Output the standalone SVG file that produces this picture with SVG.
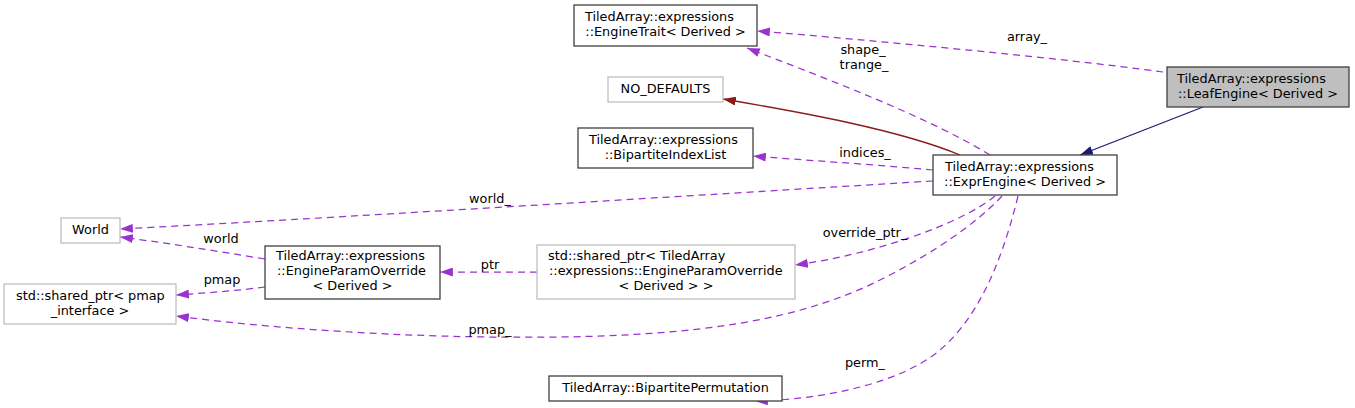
<svg xmlns="http://www.w3.org/2000/svg" width="1355" height="408" viewBox="0 0 1355 408">
<style>
text{font-family:"DejaVu Sans","Liberation Sans",sans-serif;font-size:12.85px;fill:#000}
.m{text-anchor:middle}
.s{text-anchor:start}
.nb{fill:#fff;stroke:#404040;stroke-width:1.3}
.ng{fill:#fff;stroke:#bfbfbf;stroke-width:1.3}
.nf{fill:#bfbfbf;stroke:#404040;stroke-width:1.3}
.e{fill:none;stroke:#9a32cd;stroke-width:1.25;stroke-dasharray:7,5}
.r{fill:none;stroke:#8b1a1a;stroke-width:1.3}
.b{fill:none;stroke:#191970;stroke-width:1.3}
</style>
<defs>
<marker id="ap" viewBox="0 0 10 7" markerUnits="userSpaceOnUse" markerWidth="13" markerHeight="9" refX="10" refY="3.5" orient="auto"><path d="M0,0L10,3.5L0,7z" fill="#9a32cd" stroke="none"/></marker>
<marker id="ar" viewBox="0 0 10 7" markerUnits="userSpaceOnUse" markerWidth="13" markerHeight="9" refX="10" refY="3.5" orient="auto"><path d="M0,0L10,3.5L0,7z" fill="#8b1a1a" stroke="none"/></marker>
<marker id="ab" viewBox="0 0 10 7" markerUnits="userSpaceOnUse" markerWidth="13" markerHeight="9" refX="10" refY="3.5" orient="auto"><path d="M0,0L10,3.5L0,7z" fill="#191970" stroke="none"/></marker>
</defs>
<g id="connectors">
<path class="b" d="M1203,107 L1080,155" marker-end="url(#ab)"/>
<path class="r" d="M960,155 C900,130 800,112 723,99" marker-end="url(#ar)"/>
<path class="e" d="M1163,72 C1060,58 870,40 757,31" marker-end="url(#ap)"/>
<text class="m" x="1027" y="41">array_</text>
<path class="e" d="M990,155 C930,118 830,80 747,48" marker-end="url(#ap)"/>
<text class="m" x="863" y="54">shape_</text>
<text class="m" x="864" y="69">trange_</text>
<path class="e" d="M933,170 C870,164 800,160 753,156" marker-end="url(#ap)"/>
<text class="m" x="865" y="157">indices_</text>
<path class="e" d="M933,181 C700,195 300,220 120,229" marker-end="url(#ap)"/>
<text class="m" x="490" y="203">world_</text>
<path class="e" d="M265,259 C210,250 160,242 120,237" marker-end="url(#ap)"/>
<text class="m" x="221" y="243">world</text>
<path class="e" d="M265,287 C235,291 205,293 176,295" marker-end="url(#ap)"/>
<text class="m" x="222" y="284">pmap</text>
<path class="e" d="M537,272 L440,272" marker-end="url(#ap)"/>
<text class="m" x="490" y="269">ptr</text>
<path class="e" d="M995,196 C960,225 870,255 795,265" marker-end="url(#ap)"/>
<text class="m" x="865" y="237">override_ptr_</text>
<path class="e" d="M1002,196 C975,225 930,255 880,280 C800,320 700,335 560,337 C400,339 260,327 176,316" marker-end="url(#ap)"/>
<text class="m" x="490" y="334">pmap_</text>
<path class="e" d="M1018,196 C1000,270 975,320 940,350 C900,384 820,400 755,401" marker-end="url(#ap)"/>
<text class="m" x="865" y="367">perm_</text>
</g>
<g id="EngineTrait"><rect class="nb" x="574" y="5" width="183" height="41"/><text class="s" x="585" y="21">TiledArray::expressions</text><text class="m" x="665.5" y="36">::EngineTrait&lt; Derived &gt;</text></g>
<g id="LeafEngine"><rect class="nf" x="1167" y="67" width="182" height="40"/><text class="s" x="1177" y="83">TiledArray::expressions</text><text class="m" x="1258" y="98">::LeafEngine&lt; Derived &gt;</text></g>
<g id="NO_DEFAULTS"><rect class="ng" x="608" y="77" width="115" height="25"/><text class="m" x="665.5" y="93">NO_DEFAULTS</text></g>
<g id="BipartiteIndexList"><rect class="nb" x="578" y="128" width="175" height="40"/><text class="s" x="589" y="144">TiledArray::expressions</text><text class="m" x="665.5" y="159">::BipartiteIndexList</text></g>
<g id="ExprEngine"><rect class="nb" x="933" y="155" width="184" height="40"/><text class="s" x="945" y="171">TiledArray::expressions</text><text class="m" x="1025" y="186">::ExprEngine&lt; Derived &gt;</text></g>
<g id="World"><rect class="ng" x="61" y="218" width="59" height="25"/><text class="m" x="90.5" y="234">World</text></g>
<g id="EngineParamOverride"><rect class="nb" x="265" y="246" width="175" height="53"/><text class="s" x="276" y="260">TiledArray::expressions</text><text class="s" x="277" y="275">::EngineParamOverride</text><text class="m" x="352.5" y="290">&lt; Derived &gt;</text></g>
<g id="SharedPtrOverride"><rect class="ng" x="537" y="245" width="258" height="54"/><text class="s" x="548" y="260">std::shared_ptr&lt; TiledArray</text><text class="s" x="549" y="275">::expressions::EngineParamOverride</text><text class="m" x="666" y="290">&lt; Derived &gt; &gt;</text></g>
<g id="SharedPtrPmap"><rect class="ng" x="4" y="284" width="172" height="40"/><text class="s" x="16" y="300">std::shared_ptr&lt; pmap</text><text class="m" x="90" y="315">_interface &gt;</text></g>
<g id="BipartitePermutation"><rect class="nb" x="549" y="376" width="233" height="25"/><text class="m" x="665.5" y="392">TiledArray::BipartitePermutation</text></g>
</svg>
